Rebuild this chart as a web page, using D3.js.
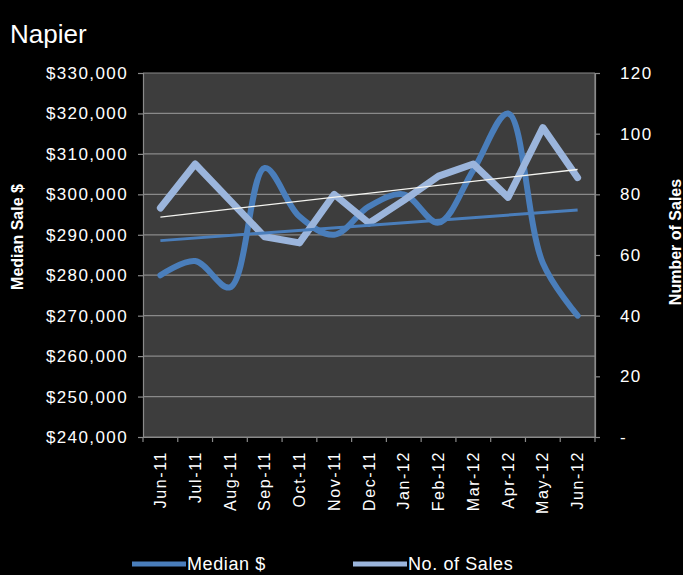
<!DOCTYPE html>
<html>
<head>
<meta charset="utf-8">
<script src="https://cdn.jsdelivr.net/npm/d3@7"></script>
<style>
  html, body { margin: 0; padding: 0; background: #000; }
  svg { display: block; }
  text { font-family: "Liberation Sans", Arial, sans-serif; fill: #fff; }
</style>
</head>
<body>
<script>
var months = ['Jun-11', 'Jul-11', 'Aug-11', 'Sep-11', 'Oct-11', 'Nov-11', 'Dec-11',
              'Jan-12', 'Feb-12', 'Mar-12', 'Apr-12', 'May-12', 'Jun-12'];
var medianSale = [280000, 283500, 277000, 306500, 294500, 290000, 297000,
                  300000, 293000, 306000, 320000, 283000, 270000];
var numSales = [75.5, 90, 78, 66, 64, 80, 70.5, 78, 86, 90, 79, 102, 85.5];
var leftTicks = [240000, 250000, 260000, 270000, 280000, 290000, 300000, 310000, 320000, 330000];
var rightTicks = [0, 20, 40, 60, 80, 100, 120];
var seriesNames = ['Median $', 'No. of Sales'];

var W = 683, H = 575;
var margin = { top: 73, right: 88, bottom: 138, left: 143 },
  width = W - margin.left - margin.right,
  height = H - margin.top - margin.bottom;

var svg = d3.select('body').append('svg')
  .attr('width', W)
  .attr('height', H)
  .style('background', '#000');

var colMedian = '#4a7ebb', colSales = '#9bb5dc', gridCol = '#8a8a8a';

// title
svg.append('text')
  .attr('x', 10).attr('y', 43)
  .style('font-size', '26px')
  .text('Napier');

var g = svg.append('g').attr('transform', 'translate(' + margin.left + ',' + margin.top + ')');

var x = d3.scaleBand().domain(months).range([0, width]);
var yL = d3.scaleLinear().domain([240000, 330000]).range([height, 0]);
var yR = d3.scaleLinear().domain([0, 120]).range([height, 0]);
var cx = function(m) { return x(m) + x.bandwidth() / 2; };

g.append('rect')
  .attr('width', width).attr('height', height)
  .attr('fill', '#3d3d3d');

// gridlines
g.append('g').selectAll('line')
  .data(leftTicks)
  .enter().append('line')
  .attr('x1', 0).attr('x2', width)
  .attr('y1', function(d) { return yL(d); })
  .attr('y2', function(d) { return yL(d); })
  .attr('stroke', gridCol).attr('stroke-width', 1.2);

g.append('line').attr('x1', width).attr('x2', width).attr('y1', 0).attr('y2', height)
  .attr('stroke', gridCol).attr('stroke-width', 1.2);

function styleAxis(sel) {
  sel.select('.domain').attr('stroke', gridCol).attr('stroke-width', 1.2);
  sel.selectAll('.tick line').attr('stroke', gridCol).attr('stroke-width', 1.2);
  sel.selectAll('.tick text').attr('fill', '#fff')
    .style('font-family', '"Liberation Sans", Arial, sans-serif');
}

var axL = g.append('g')
  .call(d3.axisLeft(yL).tickValues(leftTicks).tickSize(5).tickPadding(10).tickFormat(d3.format('$,')));
styleAxis(axL);
axL.selectAll('.tick text').style('font-size', '17px').style('letter-spacing', '1.4px');

var axR = g.append('g').attr('transform', 'translate(' + width + ',0)')
  .call(d3.axisRight(yR).tickValues(rightTicks).tickSize(5).tickPadding(20)
    .tickFormat(function(d) { return d === 0 ? '-' : d; }));
styleAxis(axR);
axR.selectAll('.tick text').style('font-size', '17px').style('letter-spacing', '1.4px');

var axX = g.append('g').attr('transform', 'translate(0,' + height + ')')
  .call(d3.axisBottom(x).tickSize(0).tickPadding(14));
styleAxis(axX);
axX.selectAll('.tick text')
  .style('font-size', '16px').style('letter-spacing', '1.6px')
  .style('text-anchor', 'end')
  .attr('transform', 'rotate(-90)')
  .attr('x', -14).attr('y', 0).attr('dy', '0.35em');

// category boundary ticks
axX.append('g').selectAll('line')
  .data(months.concat(['end']))
  .enter().append('line')
  .attr('x1', function(d, i) { return i * x.bandwidth(); })
  .attr('x2', function(d, i) { return i * x.bandwidth(); })
  .attr('y1', 0).attr('y2', 5)
  .attr('stroke', gridCol).attr('stroke-width', 1.2);

// axis titles
svg.append('text')
  .attr('transform', 'translate(23,237) rotate(-90)')
  .style('text-anchor', 'middle').style('font-weight', 'bold').style('font-size', '16px')
  .text('Median Sale $');
svg.append('text')
  .attr('transform', 'translate(681,242) rotate(-90)')
  .style('text-anchor', 'middle').style('font-weight', 'bold').style('font-size', '16px')
  .text('Number of Sales');

// linear trend helper
function trend(vals) {
  var n = vals.length, mx = (n - 1) / 2, my = d3.mean(vals);
  var sxy = d3.sum(vals, function(v, i) { return (i - mx) * (v - my); });
  var sxx = d3.sum(vals, function(v, i) { return (i - mx) * (i - mx); });
  var b = sxy / sxx, a = my - b * mx;
  return [a, a + b * (n - 1)];
}

var lineMedian = d3.line()
  .x(function(d, i) { return cx(months[i]); })
  .y(function(d) { return yL(d); })
  .curve(d3.curveCatmullRom.alpha(0.5));
var lineSales = d3.line()
  .x(function(d, i) { return cx(months[i]); })
  .y(function(d) { return yR(d); });

g.append('path').datum(medianSale)
  .attr('d', lineMedian)
  .attr('fill', 'none').attr('stroke', colMedian).attr('stroke-width', 6)
  .attr('stroke-linejoin', 'round').attr('stroke-linecap', 'round');

g.append('path').datum(numSales)
  .attr('d', lineSales)
  .attr('fill', 'none').attr('stroke', colSales).attr('stroke-width', 7)
  .attr('stroke-linejoin', 'round').attr('stroke-linecap', 'round');

var tM = trend(medianSale), tS = trend(numSales);
var first = months[0], last = months[months.length - 1];
g.append('line')
  .attr('x1', cx(first)).attr('x2', cx(last))
  .attr('y1', yL(tM[0])).attr('y2', yL(tM[1]))
  .attr('stroke', colMedian).attr('stroke-width', 3);
g.append('line')
  .attr('x1', cx(first)).attr('x2', cx(last))
  .attr('y1', yR(tS[0])).attr('y2', yR(tS[1]))
  .attr('stroke', '#f4f4f0').attr('stroke-width', 1.3);

// legend
var legend = svg.append('g').selectAll('g')
  .data(seriesNames)
  .enter().append('g')
  .attr('transform', function(d, i) { return 'translate(' + (132 + i * 221) + ',564)'; });
legend.append('line')
  .attr('x1', 0).attr('x2', 54)
  .attr('stroke', function(d, i) { return i === 0 ? colMedian : colSales; })
  .attr('stroke-width', 5);
legend.append('text')
  .attr('x', 55).attr('y', 6)
  .style('font-size', '18px')
  .style('letter-spacing', '0.6px')
  .text(function(d) { return d; });
</script>
</body>
</html>
